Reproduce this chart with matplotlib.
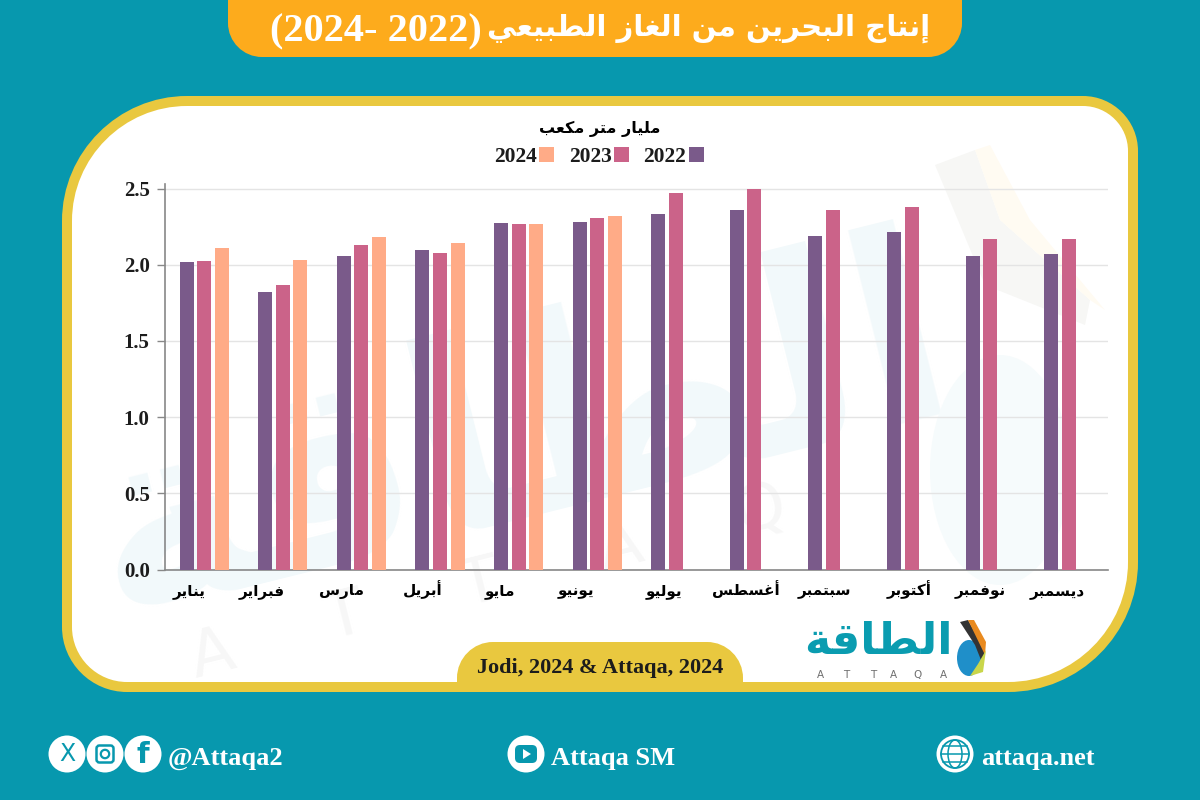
import matplotlib
matplotlib.use("Agg")
import matplotlib.pyplot as plt
from matplotlib.patches import PathPatch, Circle, Ellipse, FancyBboxPatch, Polygon
from matplotlib.path import Path
from matplotlib.transforms import ScaledTranslation
from matplotlib.font_manager import FontProperties

# ---------- data ----------
months = ["يناير", "فبراير", "مارس", "أبريل", "مايو", "يونيو",
          "يوليو", "أغسطس", "سبتمبر", "أكتوبر", "نوفمبر", "ديسمبر"]
series_names = ["2022", "2023", "2024"]
values_2022 = [2.02, 1.82, 2.06, 2.10, 2.275, 2.28, 2.335, 2.36, 2.19, 2.215, 2.06, 2.07]
values_2023 = [2.025, 1.87, 2.13, 2.075, 2.27, 2.305, 2.47, 2.50, 2.36, 2.38, 2.17, 2.17]
values_2024 = [2.11, 2.03, 2.18, 2.14, 2.27, 2.32]
y_ticks = [0.0, 0.5, 1.0, 1.5, 2.0, 2.5]
title_ar = "إنتاج البحرين من الغاز الطبيعي"
title_years = "(2024- 2022)"
unit_ar = "مليار متر مكعب"
source_text = "Jodi, 2024 & Attaqa, 2024"
logo_ar = "الطاقة"

# ---------- styles ----------
TEAL = "#0798ae"
YELLOW = "#e9c83f"
ORANGE = "#fdab1c"
COLORS = ["#7a5a8a", "#cb6389", "#ffab87"]
INK = "#1c1c1c"
label_shift_px = [-15, -21, -20, -17, -19, -21, -12, -8, -9, -2, -10, -11]

# ---------- minimal Arabic shaping (matplotlib has no text shaper) ----------
FORMS = {"ا": (0xFE8D, 2), "أ": (0xFE83, 2), "إ": (0xFE87, 2), "ب": (0xFE8F, 4), "ت": (0xFE95, 4),
         "ج": (0xFE9D, 4), "ح": (0xFEA1, 4), "د": (0xFEA9, 2), "ر": (0xFEAD, 2), "ز": (0xFEAF, 2),
         "س": (0xFEB1, 4), "ط": (0xFEC1, 4), "ع": (0xFEC9, 4), "غ": (0xFECD, 4), "ف": (0xFED1, 4),
         "ق": (0xFED5, 4), "ك": (0xFED9, 4), "ل": (0xFEDD, 4), "م": (0xFEE1, 4), "ن": (0xFEE5, 4),
         "ة": (0xFE93, 2), "و": (0xFEED, 2), "ي": (0xFEF1, 4)}


def shape(text):
    out = []
    for i, ch in enumerate(text):
        if ch not in FORMS:
            out.append(ch)
            continue
        base, n = FORMS[ch]
        prev = text[i - 1] if i > 0 else " "
        nxt = text[i + 1] if i + 1 < len(text) else " "
        joins_prev = prev in FORMS and FORMS[prev][1] == 4
        joins_next = n == 4 and nxt in FORMS
        offset = (3 if joins_next else 1) if joins_prev else (2 if joins_next else 0)
        out.append(chr(base + offset))
    return "".join(reversed(out))


SERIF = FontProperties(family=["Liberation Serif", "DejaVu Sans"], weight="bold")


def serif(size):
    fp = SERIF.copy()
    fp.set_size(size)
    return fp


def arabic(size):
    return FontProperties(family="DejaVu Sans", weight="bold", size=size)


def rounded_shape(x0, y0, x1, y1, tl, tr, br, bl):
    k = 0.45
    v = [(x0 + tl, y0), (x1 - tr, y0), (x1 - tr * k, y0), (x1, y0 + tr * k), (x1, y0 + tr),
         (x1, y1 - br), (x1, y1 - br * k), (x1 - br * k, y1), (x1 - br, y1),
         (x0 + bl, y1), (x0 + bl * k, y1), (x0, y1 - bl * k), (x0, y1 - bl),
         (x0, y0 + tl), (x0, y0 + tl * k), (x0 + tl * k, y0), (x0 + tl, y0), (x0 + tl, y0)]
    c = [Path.MOVETO, Path.LINETO, Path.CURVE4, Path.CURVE4, Path.CURVE4,
         Path.LINETO, Path.CURVE4, Path.CURVE4, Path.CURVE4,
         Path.LINETO, Path.CURVE4, Path.CURVE4, Path.CURVE4,
         Path.LINETO, Path.CURVE4, Path.CURVE4, Path.CURVE4, Path.CLOSEPOLY]
    return Path(v, c)


fig = plt.figure(figsize=(12, 8), dpi=100, facecolor=TEAL)

# ---------- pixel-space backdrop ----------
bg = fig.add_axes([0, 0, 1, 1], zorder=0)
bg.set_xlim(0, 1200)
bg.set_ylim(800, 0)
bg.axis("off")

bg.add_patch(PathPatch(rounded_shape(62, 96, 1138, 692, 125, 55, 130, 65), fc=YELLOW, ec="none"))
panel = PathPatch(rounded_shape(72, 106, 1128, 682, 115, 45, 120, 55), fc="white", ec="none")
bg.add_patch(panel)

# top title tab
bg.add_patch(PathPatch(rounded_shape(228, -40, 962, 57, 0, 0, 34, 34), fc=ORANGE, ec="none"))
bg.text(930, 28, shape(title_ar), color="white", ha="right", va="center", fontproperties=arabic(21))
bg.text(270, 32, title_years, color="white", ha="left", va="center", fontproperties=serif(29))

# faint watermark
wm = bg.text(520, 440, shape(logo_ar), color="#f2f9fb", ha="center", va="center", rotation=14,
             fontproperties=arabic(190), zorder=1)
wm.set_clip_path(panel)
for ch, x, y in zip("ATTAQ", [212, 345, 480, 620, 760], [655, 618, 585, 548, 510]):
    bg.text(x, y, ch, color="#f7f7f7", ha="center", va="center", rotation=14,
            fontproperties=FontProperties(family="DejaVu Sans", size=46), zorder=1)
bg.add_patch(Ellipse((1000, 470), 140, 230, fc="#f6fbfc", ec="none", zorder=1))
bg.add_patch(Polygon([(935, 165), (975, 150), (1000, 220), (1090, 300), (1085, 325), (985, 285)],
                     closed=True, fc="#f7f7f5", ec="none", zorder=1))
bg.add_patch(Polygon([(975, 150), (990, 145), (1030, 220), (1105, 310), (1090, 300), (1000, 220)],
                     closed=True, fc="#fffbf2", ec="none", zorder=1))

# source tab
bg.add_patch(PathPatch(rounded_shape(457, 642, 743, 690, 36, 36, 0, 0), fc=YELLOW, ec="none", zorder=2))
bg.text(600, 668, source_text, color=INK, ha="center", va="center", fontproperties=serif(16), zorder=3)

# logo
bg.text(878, 641, shape(logo_ar), color="#0a9cb0", ha="center", va="center",
        fontproperties=arabic(32), zorder=3)
for ch, x in zip("ATTAQA", [820, 846, 873, 893, 918, 943]):
    bg.text(x, 675, ch, color="#6e6e6e", ha="center", va="center",
            fontproperties=FontProperties(family="DejaVu Sans", size=7.5), zorder=3)
bg.add_patch(Ellipse((969, 658), 24, 36, fc="#1f8fc9", ec="none", zorder=3))
bg.add_patch(Polygon([(960, 622), (968, 620), (985, 650), (983, 665), (975, 645)], closed=True,
                     fc="#333333", ec="none", zorder=3))
bg.add_patch(Polygon([(968, 620), (974, 620), (986, 642), (985, 655)], closed=True,
                     fc="#e98a1f", ec="none", zorder=3))
bg.add_patch(Polygon([(978, 664), (986, 650), (983, 672), (970, 676)], closed=True,
                     fc="#c9d64a", ec="none", zorder=3))

# footer
for cx in (67, 105, 143, 526, 955):
    bg.add_patch(Circle((cx, 754), 18.5, fc="white", ec="none"))
bg.text(67, 754, "X", color=TEAL, ha="center", va="center",
        fontproperties=FontProperties(family="DejaVu Sans", size=17))
bg.add_patch(FancyBboxPatch((96.5, 745.5), 17, 17, boxstyle="round,pad=0,rounding_size=3", fc="none", ec=TEAL, lw=1.8))
bg.add_patch(Circle((105, 754), 4.2, fc="none", ec=TEAL, lw=1.6))
bg.text(143, 755, "f", color=TEAL, ha="center", va="center",
        fontproperties=FontProperties(family="DejaVu Sans", weight="bold", size=21))
bg.add_patch(FancyBboxPatch((515, 745), 22, 18, boxstyle="round,pad=0,rounding_size=5", fc=TEAL, ec="none"))
bg.add_patch(Polygon([(523, 749), (523, 759), (531, 754)], closed=True, fc="white", ec="none"))
bg.add_patch(Circle((955, 754), 14, fc="none", ec=TEAL, lw=1.3))
bg.add_patch(Ellipse((955, 754), 14, 28, fc="none", ec=TEAL, lw=1.1))
bg.plot([941, 969], [754, 754], color=TEAL, lw=1.1)
bg.plot([943, 967], [746, 746], color=TEAL, lw=1.1)
bg.plot([943, 967], [762, 762], color=TEAL, lw=1.1)
bg.text(168, 758, "@Attaqa2", color="white", ha="left", va="center", fontproperties=serif(19))
bg.text(551, 758, "Attaqa SM", color="white", ha="left", va="center", fontproperties=serif(19))
bg.text(981, 758, "attaqa.net", color="white", ha="left", va="center", fontproperties=serif(19))

# ---------- chart ----------
ax = fig.add_axes([165 / 1200, 1 - 569.5 / 800, 943 / 1200, 385.5 / 800], zorder=2)
ax.patch.set_alpha(0)
bar_w = 0.178
gap = 0.224
for k, (name, vals, col) in enumerate(zip(series_names, [values_2022, values_2023, values_2024], COLORS)):
    xs = [i + (k - 1) * gap for i in range(len(vals))]
    ax.bar(xs, vals, width=bar_w, color=col, label=name, zorder=3)

ax.set_xlim(-0.5, 11.5)
ax.set_ylim(0, 2.53)
ax.set_yticks(y_ticks)
ax.set_yticklabels([f"{t:.1f}" for t in y_ticks], fontproperties=serif(15), color=INK)
ax.set_xticks(range(len(months)))
ax.set_xticklabels([shape(m) for m in months], fontproperties=arabic(11), color="black", va="baseline")
ax.tick_params(axis="x", length=0, pad=18.5)
ax.tick_params(axis="y", length=6, width=1, color="#888888", pad=5)
ax.grid(axis="y", color="#e4e4e4", lw=1, zorder=0)
ax.set_axisbelow(True)
for side in ("top", "right"):
    ax.spines[side].set_visible(False)
for side in ("left", "bottom"):
    ax.spines[side].set_color("#888888")
    ax.spines[side].set_linewidth(1.2)
for lab, dx in zip(ax.get_xticklabels(), label_shift_px):
    lab.set_transform(lab.get_transform() + ScaledTranslation(dx / 100, 0, fig.dpi_scale_trans))

handles, labels = ax.get_legend_handles_labels()
fig.legend(handles[::-1], labels[::-1], ncol=3, markerfirst=False, frameon=False, prop=serif(15.5),
           loc="center", bbox_to_anchor=(599 / 1200, 1 - 157 / 800), handlelength=0.7, handleheight=0.7,
           handletextpad=0.1, columnspacing=0.68, labelcolor=INK)
fig.text(600 / 1200, 1 - 129 / 800, shape(unit_ar), ha="center", va="center", color="black",
         fontproperties=arabic(11.5))

fig.savefig("out.png", dpi=100, facecolor=TEAL)
